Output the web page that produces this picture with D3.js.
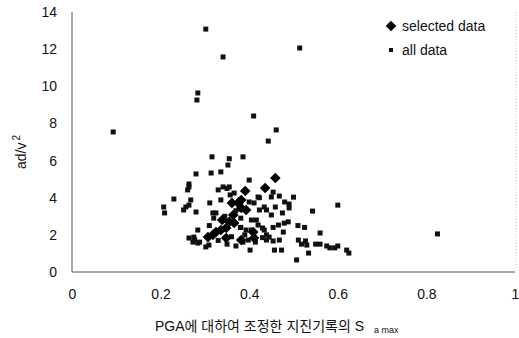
<!DOCTYPE html>
<html>
<head>
<meta charset="utf-8">
<script src="https://cdn.jsdelivr.net/npm/d3@7"></script>
<style>
  body { margin: 0; background: #fff; }
  text { font-family: "Liberation Sans", Arial, "Noto Sans CJK KR", sans-serif; fill: #111; }
</style>
</head>
<body>
<svg id="chart"></svg>
<script>
// all data (S_a max scaled to PGA, ad/v^2)
var allX = [0.093,0.302,0.341,0.284,0.282,0.41,0.514,0.461,0.443,0.316,0.355,0.352,0.386,0.825,0.6,0.543,
  0.507,0.625,0.62,0.60,0.593,0.582,0.575,0.56,0.56,0.55,0.534,0.527,0.53,0.518,0.525,0.51,0.5,0.49,0.49,
  0.48,0.468,0.454,0.488,0.479,0.475,0.477,0.466,0.454,0.457,0.454,0.439,0.439,0.45,0.459,0.45,0.439,0.43,
  0.28,0.314,0.336,0.4,0.264,0.23,0.207,0.209,0.257,0.252,0.268,0.28,0.261,0.311,0.33,0.341,0.355,0.366,
  0.336,0.318,0.325,0.284,0.275,0.264,0.273,0.284,0.302,0.309,0.386,0.402,0.42,0.411,0.423,0.434,0.405,
  0.42,0.405,0.434,0.445,0.468,0.511,0.264,0.264,0.277,0.288,0.35,0.357,0.31,0.32,0.345,0.37,0.38,0.39,
  0.36,0.33,0.35,0.37,0.38,0.381,0.381,0.381,0.4,0.423,0.416,0.393,0.398,0.414,0.43,0.473];
var allY = [7.54,13.08,11.58,9.64,9.26,8.4,12.06,7.65,7.05,6.2,6.1,5.76,6.2,2.05,3.6,3.28,
  0.65,1.02,1.18,1.4,1.3,1.3,1.4,2.1,1.5,1.5,1.02,1.67,1.45,1.5,2.4,2.5,4.03,3.66,3.45,
  3.77,4.09,4.3,2.7,2.63,3.18,2.15,2.53,2.4,1.18,1.67,1.72,2.0,3.07,3.5,4.04,3.34,2.37,
  5.28,5.33,5.39,4.95,4.74,3.93,3.5,3.18,3.5,3.34,3.88,3.23,4.42,3.72,4.42,4.58,4.58,4.25,
  3.88,3.18,3.18,2.26,1.88,1.83,1.61,1.56,1.35,1.45,1.61,1.18,4.04,3.72,3.34,3.5,2.8,
  2.53,2.26,2.26,1.88,1.72,1.72,4.58,3.6,1.73,1.61,4.5,4.15,2.5,2.9,3.0,3.3,2.4,2.0,
  1.9,1.7,1.5,1.4,3.9,3.4,2.9,2.4,3.77,4.0,2.8,2.26,1.72,1.61,1.85,1.18];

// selected data
var selX = [0.459,0.436,0.391,0.361,0.375,0.382,0.364,0.339,0.355,0.348,0.336,0.325,0.318,0.348,0.382,
  0.411,0.409,0.382,0.393,0.366,0.307];
var selY = [5.06,4.52,4.36,3.72,3.72,3.88,3.07,2.8,2.7,2.37,2.26,2.15,2.0,1.83,1.72,
  1.83,2.15,3.45,3.34,2.64,1.88];

var xTicks = [0, 0.2, 0.4, 0.6, 0.8, 1];
var yTicks = [0, 2, 4, 6, 8, 10, 12, 14];
var legendLabels = ["selected data", "all data"];

var width = 519, height = 338;
var svg = d3.select("#chart").attr("width", width).attr("height", height);

var x = d3.scaleLinear().domain([0, 1]).range([72, 515]);
var y = d3.scaleLinear().domain([0, 14]).range([272, 12]);

// axis lines (scanned look: grey, a bit rough)
svg.append("line").attr("x1", x(0)).attr("x2", x(0)).attr("y1", y(14)).attr("y2", y(0))
  .attr("stroke", "#555").attr("stroke-width", 1);
svg.append("line").attr("x1", x(0)).attr("x2", x(1)).attr("y1", y(0)).attr("y2", y(0))
  .attr("stroke", "#555").attr("stroke-width", 1);
svg.append("line").attr("x1", x(1) + 1).attr("x2", x(1) + 1).attr("y1", y(14)).attr("y2", y(0))
  .attr("stroke", "#ccc").attr("stroke-width", 1).attr("stroke-dasharray", "1,2");

// tick labels
var xAxis = d3.axisBottom(x).tickValues(xTicks).tickSize(0).tickPadding(17)
  .tickFormat(function (d) { return d === 0 || d === 1 ? d : d3.format(".1f")(d); });
var gx = svg.append("g").attr("transform", "translate(0," + y(0) + ")").call(xAxis);
gx.select(".domain").remove();
gx.selectAll("text").style("font-size", "14px").attr("fill", "#111");

var yAxis = d3.axisLeft(y).tickValues(yTicks).tickSize(0).tickPadding(15);
var gy = svg.append("g").attr("transform", "translate(" + x(0) + ",0)").call(yAxis);
gy.select(".domain").remove();
gy.selectAll("text").style("font-size", "14px").attr("fill", "#111");

// all data squares
var sq = 5;
svg.append("g").selectAll("rect").data(allX).enter().append("rect")
  .attr("x", function (d, i) { return x(allX[i]) - sq / 2; })
  .attr("y", function (d, i) { return y(allY[i]) - sq / 2; })
  .attr("width", sq).attr("height", sq)
  .attr("fill", "#111");

// selected data diamonds
var diamond = d3.symbol().type(d3.symbolDiamond2).size(72);
svg.append("g").selectAll("path").data(selX).enter().append("path")
  .attr("d", diamond)
  .attr("transform", function (d, i) { return "translate(" + x(selX[i]) + "," + y(selY[i]) + ")"; })
  .attr("fill", "#000");

// legend
var lg = svg.append("g");
lg.append("path").attr("d", diamond).attr("transform", "translate(391,26)").attr("fill", "#000");
lg.append("rect").attr("x", 389).attr("y", 48).attr("width", 4).attr("height", 4).attr("fill", "#111");
lg.append("text").attr("x", 402).attr("y", 31).style("font-size", "14px").text(legendLabels[0]);
lg.append("text").attr("x", 402).attr("y", 55).style("font-size", "14px").text(legendLabels[1]);

// axis titles
var xt = svg.append("text").attr("x", 155).attr("y", 331).style("font-size", "14px");
xt.append("tspan").text("PGA에 대하여 조정한 지진기록의 S");
xt.append("tspan").attr("dx", 10).attr("dy", 2).style("font-size", "9px").text("a max");

var yt = svg.append("text").attr("transform", "translate(26,152) rotate(-90)")
  .attr("text-anchor", "middle").style("font-size", "14px");
yt.append("tspan").text("ad/v");
yt.append("tspan").attr("dx", 2).attr("dy", -6).style("font-size", "10px").text("2");
</script>
</body>
</html>
